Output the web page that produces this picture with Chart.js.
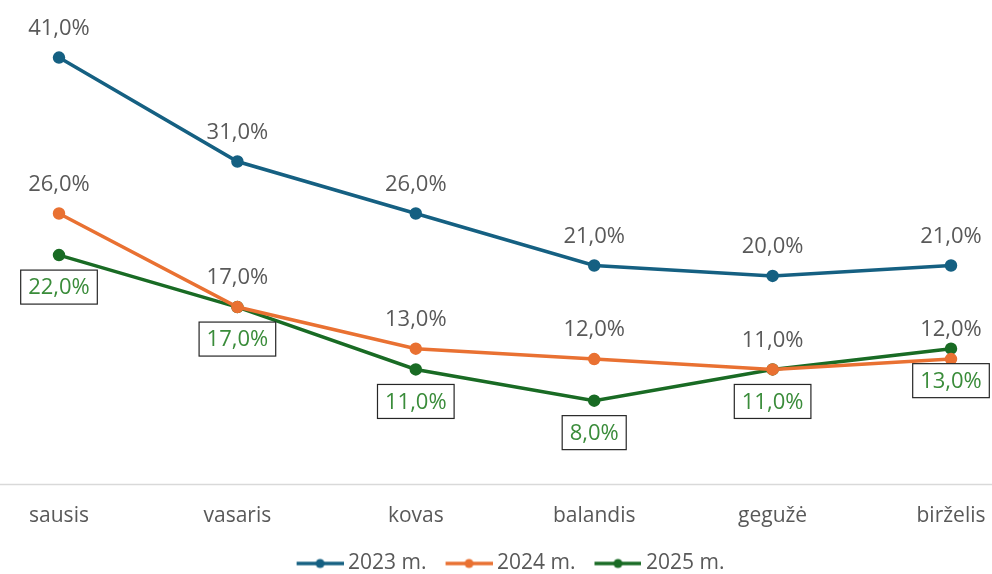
<!DOCTYPE html>
<html>
<head>
<meta charset="utf-8">
<script src="https://cdn.jsdelivr.net/npm/chart.js@4"></script>
<style>
  html, body { margin: 0; padding: 0; background: #fff; }
</style>
</head>
<body>
<canvas id="grafico" width="992" height="574"></canvas>
<script>
// Duomenys
const menesiai = ['sausis', 'vasaris', 'kovas', 'balandis', 'gegužė', 'birželis'];
const metai = ['2023 m.', '2024 m.', '2025 m.'];
const reiksmes2023 = [41, 31, 26, 21, 20, 21];
const reiksmes2024 = [26, 17, 13, 12, 11, 12];
const reiksmes2025 = [22, 17, 11, 8, 11, 13];

const spalvos = ['#156082', '#E97132', '#196B24'];
const pilka = '#595959';
const srift = '"Open Sans", "Noto Sans", sans-serif';

function formatas(v) {
    return v.toFixed(1).replace('.', ',') + '%';
}

// legendos ikonėlė: linija su tašku (kairėje tuščia vieta)
const IKONOS_PLOTIS = 52;
function ikona(spalva) {
    const c = document.createElement('canvas');
    c.width = IKONOS_PLOTIS + 12; c.height = 12;
    const g = c.getContext('2d');
    const x0 = c.width - 47;
    g.strokeStyle = spalva; g.lineWidth = 3.5;
    g.beginPath(); g.moveTo(x0, 6); g.lineTo(c.width, 6); g.stroke();
    g.fillStyle = spalva;
    g.beginPath(); g.arc(x0 + 23.5, 6, 4.5, 0, Math.PI * 2); g.fill();
    return c;
}

// x ašies linija per visą plotį
const asiesLinija = {
    id: 'asiesLinija',
    beforeDatasetsDraw(chart) {
        const ctx = chart.ctx;
        const y = Math.round(chart.scales.y.getPixelForValue(0)) + 0.5;
        ctx.save();
        ctx.strokeStyle = '#d9d9d9';
        ctx.lineWidth = 1.5;
        ctx.beginPath();
        ctx.moveTo(0, y);
        ctx.lineTo(chart.width, y);
        ctx.stroke();
        ctx.restore();
    }
};

// reikšmių etiketės
const etiketes = {
    id: 'etiketes',
    afterDatasetsDraw(chart) {
        const ctx = chart.ctx;
        ctx.save();
        ctx.font = '22px ' + srift;
        ctx.textAlign = 'center';
        ctx.textBaseline = 'middle';
        chart.data.datasets.forEach((ds, i) => {
            const meta = chart.getDatasetMeta(i);
            meta.data.forEach((pt, j) => {
                const txt = formatas(ds.data[j]);
                if (i < 2) {
                    ctx.fillStyle = pilka;
                    ctx.fillText(txt, pt.x, pt.y - 29);
                } else {
                    const w = ctx.measureText(txt).width + 15;
                    const h = 34;
                    const y = pt.y + 32;
                    ctx.fillStyle = '#fff';
                    ctx.fillRect(pt.x - w / 2, y - h / 2, w, h);
                    ctx.strokeStyle = '#262626';
                    ctx.lineWidth = 1.2;
                    ctx.strokeRect(pt.x - w / 2, y - h / 2, w, h);
                    ctx.fillStyle = '#3a8c3a';
                    ctx.fillText(txt, pt.x, y + 1);
                }
            });
        });
        ctx.restore();
    }
};

const ctx = document.getElementById('grafico').getContext('2d');

new Chart(ctx, {
    type: 'line',
    data: {
        labels: menesiai,
        datasets: [reiksmes2023, reiksmes2024, reiksmes2025].map((d, i) => ({
            label: metai[i],
            data: d,
            borderColor: spalvos[i],
            backgroundColor: spalvos[i],
            borderWidth: 3.5,
            pointRadius: 4.5,
            pointHoverRadius: 4.5,
            tension: 0,
            fill: false
        }))
    },
    options: {
        responsive: false,
        animation: false,
        layout: { padding: { left: 59, right: 41, top: 16, bottom: -10 } },
        scales: {
            x: {
                offset: false,
                grid: { display: false },
                border: { display: false },
                ticks: { color: pilka, font: { size: 21, family: srift }, padding: 12 },
                afterFit(scale) {
                    scale.paddingLeft = 0;
                    scale.paddingRight = 0;
                    scale.height += 4;
                }
            },
            y: { display: false, min: 0, max: 45 }
        },
        plugins: {
            tooltip: { enabled: false },
            legend: {
                position: 'bottom',
                labels: {
                    color: pilka,
                    font: { size: 21, family: srift },
                    usePointStyle: true,
                    pointStyleWidth: IKONOS_PLOTIS,
                    padding: 8,
                    generateLabels(chart) {
                        const items = Chart.defaults.plugins.legend.labels.generateLabels(chart);
                        items.forEach((it, k) => { it.pointStyle = ikona(spalvos[k]); });
                        return items;
                    }
                }
            }
        }
    },
    plugins: [asiesLinija, etiketes]
});
</script>
</body>
</html>
